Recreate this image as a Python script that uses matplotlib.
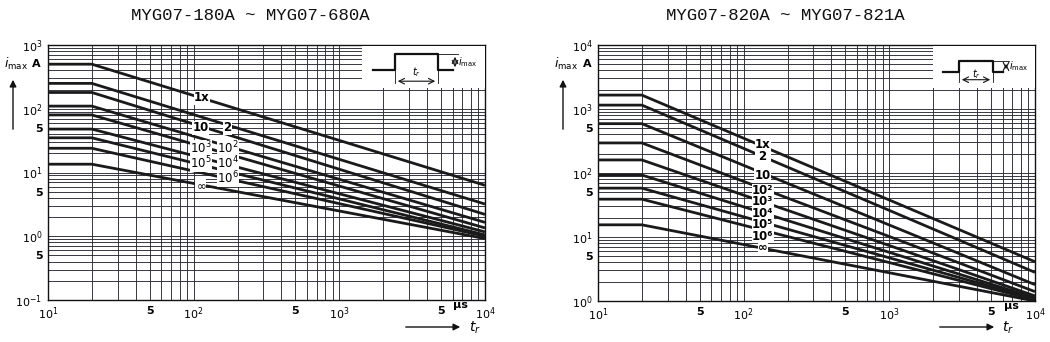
import numpy as np
import matplotlib
matplotlib.use("Agg")
import matplotlib.pyplot as plt
from matplotlib.ticker import LogLocator, NullFormatter

# pulse width t_r (us) where the flat part ends, and the right end of the chart
t_knee = 20
t_end = 1e4
t_start = 10

# left chart: MYG07-180A ~ MYG07-680A, nine curves (1x ... infinity)
left_flat = [500, 250, 180, 110, 80, 48, 35, 24, 13.5]
left_end = [6.3, 3.2, 2.2, 1.65, 1.35, 1.17, 1.05, 1.0, 0.92]

# right chart: MYG07-820A ~ MYG07-821A
right_flat = [1650, 1150, 590, 295, 160, 93, 58, 39, 15.5]
right_end = [4.1, 2.8, 1.8, 1.4, 1.2, 1.12, 1.08, 1.04, 1.0]

left_labels = [("1x", 114, 148), ("10", 112, 50), ("2", 170, 50),
               ("$10^3$", 112, 24), ("$10^2$", 172, 24),
               ("$10^5$", 112, 14), ("$10^4$", 172, 14),
               ("$\\infty$", 112, 6.2), ("$10^6$", 172, 8.2)]
# right chart labels are stacked, so they are grouped in blocks
right_labels = [("1x\n2", 135, 225), ("10", 135, 93),
                ("10²\n10³\n10⁴\n10⁵\n10⁶", 135, 23.5), ("∞", 135, 6.8)]

x_ticks = [10, 50, 100, 500, 1000, 5000, 10000]
x_ticklabels = ["$10^1$", "5", "$10^2$", "5", "$10^3$", "5", "$10^4$"]
left_yticks = [0.1, 0.5, 1, 5, 10, 50, 100, 1000]
left_yticklabels = ["$10^{-1}$", "5", "$10^0$", "5", "$10^1$", "5", "$10^2$", "$10^3$"]
right_yticks = [1, 5, 10, 50, 100, 500, 1000, 10000]
right_yticklabels = ["$10^0$", "5", "$10^1$", "5", "$10^2$", "5", "$10^3$", "$10^4$"]

fig = plt.figure(figsize=(10.5, 3.42), dpi=100)
W, H = 1050, 342


def px_axes(x0, y0, x1, y1):
    return fig.add_axes([x0 / W, 1 - y1 / H, (x1 - x0) / W, (y1 - y0) / H])


def setup(ax, ylim, yticks, yticklabels):
    ax.set_xscale("log")
    ax.set_yscale("log")
    ax.set_xlim(t_start, t_end)
    ax.set_ylim(*ylim)
    ax.xaxis.set_minor_locator(LogLocator(base=10, subs=np.arange(2, 10)))
    ax.yaxis.set_minor_locator(LogLocator(base=10, subs=np.arange(2, 10)))
    ax.xaxis.set_minor_formatter(NullFormatter())
    ax.yaxis.set_minor_formatter(NullFormatter())
    ax.set_xticks(x_ticks)
    ax.set_xticklabels(x_ticklabels)
    ax.set_yticks(yticks)
    ax.set_yticklabels(yticklabels)
    ax.tick_params(which="both", length=0, labelsize=8, pad=4)
    ax.grid(which="both", color="#2a2a38", lw=0.65)
    for s in ax.spines.values():
        s.set_color("#111111")
        s.set_linewidth(1.0)


def draw_curves(ax, flat, end):
    for a, b in zip(flat, end):
        ax.plot([t_start, t_knee, t_end], [a, a, b], color="#1a1a1a", lw=2.0,
                solid_capstyle="butt", zorder=3)


def draw_labels(ax, labels, size, spacing=1.2):
    for txt, x, y in labels:
        ax.text(x, y, txt, fontsize=size, ha="center", va="center", zorder=5,
                fontweight="bold", linespacing=spacing, multialignment="center",
                bbox=dict(facecolor="white", edgecolor="none", pad=0.2))


def inset(x0, y0, x1, y1, base_y, top_y, xa, xb, xc, xd, arrow_x):
    ia = px_axes(x0, y0, x1, y1)
    ia.set_xlim(x0, x1)
    ia.set_ylim(y1, y0)
    ia.set_facecolor("white")
    ia.set_xticks([])
    ia.set_yticks([])
    for s in ia.spines.values():
        s.set_visible(False)
    ia.plot([xa, xb, xb, xc, xc, xd], [base_y, base_y, top_y, top_y, base_y, base_y],
            color="#111111", lw=1.6)
    ar = base_y + (base_y - top_y) * 0.7
    ia.annotate("", xy=(xb, ar), xytext=(xc, ar),
                arrowprops=dict(arrowstyle="<->", color="#111111", lw=0.8))
    ia.plot([xb, xb], [base_y, ar + 2], color="#111111", lw=0.6)
    ia.plot([xc, xc], [base_y, ar + 2], color="#111111", lw=0.6)
    ia.text((xb + xc) / 2, base_y + 2, "$t_r$", fontsize=7, ha="center", va="center")
    ia.annotate("", xy=(arrow_x, top_y), xytext=(arrow_x, base_y),
                arrowprops=dict(arrowstyle="<->", color="#111111", lw=0.8))
    ia.plot([xc, arrow_x + 3], [top_y, top_y], color="#111111", lw=0.6)
    ia.text(arrow_x + 3, (top_y + base_y) / 2, "$i_{\\max}$", fontsize=7,
            ha="left", va="center")


# left chart
ax1 = px_axes(48, 45, 485, 300)
setup(ax1, (0.1, 1000), left_yticks, left_yticklabels)
draw_curves(ax1, left_flat, left_end)
draw_labels(ax1, left_labels, 8.5)
ax1.text(6800, 0.1, "μs", fontsize=8, ha="center", va="top", fontweight="bold")
inset(362, 45.8, 484.5, 88, 70, 54, 373, 395, 438, 453, 455)

# right chart
ax2 = px_axes(598, 45, 1035, 301)
setup(ax2, (1, 10000), right_yticks, right_yticklabels)
draw_curves(ax2, right_flat, right_end)
draw_labels(ax2, right_labels, 8.5, spacing=0.85)
ax2.text(6900, 1, "μs", fontsize=8, ha="center", va="top", fontweight="bold")
inset(933, 45.8, 1034.5, 88, 72, 61, 943, 959, 993, 1003, 1006)

for ax in (ax1, ax2):
    for lab in ax.get_xticklabels() + ax.get_yticklabels():
        lab.set_fontweight("bold")

# titles
fig.text(250 / W, 1 - 15 / H, "MYG07-180A ~ MYG07-680A", family="Liberation Mono",
         fontsize=12.5, ha="center", va="center", color="#111111")
fig.text(785 / W, 1 - 15 / H, "MYG07-820A ~ MYG07-821A", family="Liberation Mono",
         fontsize=12.5, ha="center", va="center", color="#111111")

# axis names with arrows
for xi, xa_, xarr, xt, xt0, xt1 in [(16, 36, 13, 475, 403, 463),
                                    (566, 587, 563, 1008, 937, 997)]:
    fig.text(xi / W, 1 - 64 / H, "$i_{\\max}$", fontsize=9, ha="center", va="center")
    fig.text(xa_ / W, 1 - 64 / H, "A", fontsize=8, ha="center", va="center",
             fontweight="bold")
    fig.add_artist(matplotlib.patches.FancyArrowPatch(
        (xarr / W, 1 - 132 / H), (xarr / W, 1 - 77 / H), transform=fig.transFigure,
        arrowstyle="-|>", mutation_scale=10, color="#111111", lw=1.0))
    fig.add_artist(matplotlib.patches.FancyArrowPatch(
        (xt0 / W, 1 - 327 / H), (xt1 / W, 1 - 327 / H), transform=fig.transFigure,
        arrowstyle="-|>", mutation_scale=10, color="#111111", lw=1.0))
    fig.text(xt / W, 1 - 328 / H, "$t_r$", fontsize=10, ha="center", va="center")

fig.savefig("out.png", dpi=100, facecolor="white")
